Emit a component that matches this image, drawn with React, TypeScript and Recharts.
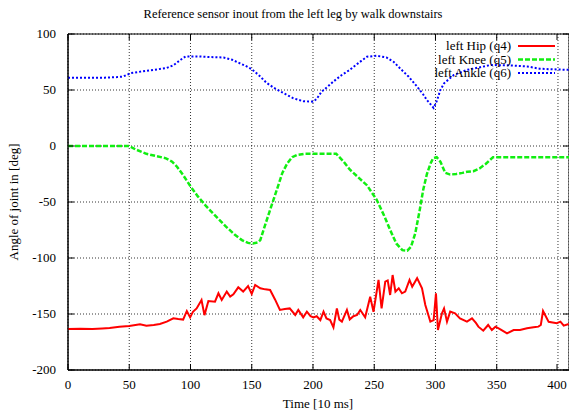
import { LineChart, Line, XAxis, YAxis, CartesianGrid, ReferenceArea } from "recharts";

const xTicks = [0, 50, 100, 150, 200, 250, 300, 350, 400];
const yTicks = [-200, -150, -100, -50, 0, 50, 100];

const hipTime = [0, 10, 20, 28, 34, 42, 50, 58.8, 64, 70, 75, 80.6, 86, 90, 94, 97, 99.7, 102, 105, 109, 111.4, 114.6, 120, 122.8, 125.5, 129.6, 132.4, 135, 139, 143, 147, 150, 152.8, 157, 161, 165, 169, 173, 177, 181, 185.5, 188, 192, 195, 198, 200.4, 203, 206, 208.6, 211, 214, 216.7, 219.5, 221.5, 223.6, 227.7, 230, 233, 236, 238.6, 242.6, 246.7, 249.4, 253.5, 256, 259, 261, 263, 265, 267.3, 270, 272.6, 275.3, 278.8, 281, 285, 289, 291.7, 295.8, 298.5, 300.4, 302, 305.3, 307, 309.4, 312, 316, 320, 325.7, 329.8, 333, 335, 339, 343, 346, 349, 353, 358.4, 363.8, 369, 374.7, 380, 384, 386, 387.8, 392.4, 399, 402, 404.7, 408.8];
const hipAngle = [-163.4, -163.2, -163.5, -163, -162.6, -161.3, -160.8, -159.2, -160.4, -159.8, -158.9, -156.8, -153.9, -154.5, -155, -147.3, -153, -148, -145, -137.5, -151, -138.4, -139, -131.5, -137.5, -130, -134.5, -132.4, -126.2, -130, -125, -132, -124.1, -127, -128, -128.6, -137, -146.4, -145.5, -145, -150.9, -146.4, -153, -147.9, -152, -153, -152, -155.4, -147.9, -154, -155.4, -161.9, -145, -155, -156.8, -146.4, -154.8, -152, -150.9, -146.4, -153, -134.5, -148, -119.6, -145, -121.1, -120, -133, -115.2, -130, -127, -131.5, -130, -119.6, -125.6, -118, -127, -142, -156.8, -155.4, -131.5, -164.3, -149.4, -145, -156.8, -147.9, -149.4, -153.9, -156.8, -153.9, -158, -161.3, -164.9, -159.8, -164.3, -161.3, -163.7, -167.3, -164.3, -164.3, -162.8, -161.9, -161.3, -159.8, -147.3, -157, -158.2, -156.8, -160.4, -158.9];

const kneeTime = [0, 20, 40, 50, 55, 64, 72, 80, 85, 89, 94, 100, 106, 113, 120, 129, 136, 142, 147, 151, 155, 157, 159.6, 165, 170.5, 175, 179, 183, 187, 193, 200, 210, 219, 225, 230, 237, 244, 252, 258, 263, 268, 273, 277, 280, 283.5, 287, 290, 293, 296, 298, 301, 304, 308, 312, 317, 322, 326, 331, 336, 341, 347, 360, 380, 409];
const kneeAngle = [0, 0, 0, 0, -3, -7, -9, -11, -14, -18.5, -26, -36, -45, -54, -62, -72, -79, -84, -86.5, -87, -86, -84, -75, -57, -39, -24, -15.5, -10, -8, -7, -7, -7, -7, -14, -21, -28, -35, -48, -62, -75, -87, -93, -93.5, -90, -78, -58, -39, -25, -15.5, -11, -10, -14, -24, -25.5, -25, -24, -23, -22.5, -20, -16, -10, -10, -10, -10];

const ankleTime = [0, 10, 20, 30, 40, 45, 51, 60, 70, 80, 86, 92, 96, 105, 115, 127, 134, 140, 145, 150, 156, 162, 168, 173, 178, 184, 192, 200, 203, 207, 212, 216.5, 223, 230, 237, 244, 252, 260, 266, 271, 278, 285, 290, 293, 298.5, 301, 304, 307, 315, 326, 335, 345, 360, 375, 385, 395, 409];
const ankleAngle = [61, 61, 61, 61, 61.5, 62, 65, 66.5, 68, 69.5, 72, 77, 80, 80, 79.5, 79, 77, 74, 71.5, 68.5, 63, 56.5, 52, 49, 46, 42.6, 40, 39.6, 42, 48.5, 53, 57.4, 63, 68, 74, 79.7, 80.6, 79, 75, 69.4, 62, 53, 46, 41, 34, 40, 50, 56, 63.4, 68, 70, 72.3, 72, 71, 69, 68.5, 68];

const toRows = (t: number[], v: number[]) => t.map((x, i) => ({ t: x, v: v[i] }));

const series = [
  { name: "left Hip (q4)", data: toRows(hipTime, hipAngle), color: "#ff0000", dash: undefined, width: 2 },
  { name: "left Knee (q5)", data: toRows(kneeTime, kneeAngle), color: "#11ee11", dash: "5 2", width: 2.5 },
  { name: "left Ankle (q6)", data: toRows(ankleTime, ankleAngle), color: "#0000ff", dash: "2 2", width: 2 },
];

const FONT = "'Liberation Serif', 'Times New Roman', serif";
const TOP = 34;
const BOTTOM = 370;
const LEFT = 68;
const RIGHT = 569;

function XTick({ x, y, payload }: any) {
  return (
    <g>
      <line x1={x} x2={x} y1={BOTTOM} y2={BOTTOM - 6} stroke="#000" />
      <line x1={x} x2={x} y1={TOP} y2={TOP + 6} stroke="#000" />
      <text x={x} y={y + 17} textAnchor="middle" fontFamily={FONT} fontSize={13} fill="#000">
        {payload.value}
      </text>
    </g>
  );
}

function YTick({ x, y, payload }: any) {
  return (
    <g>
      <line x1={LEFT} x2={LEFT + 6} y1={y} y2={y} stroke="#000" />
      <line x1={RIGHT} x2={RIGHT - 6} y1={y} y2={y} stroke="#000" />
      <text x={x - 10} y={y + 4} textAnchor="end" fontFamily={FONT} fontSize={13} fill="#000">
        {payload.value}
      </text>
    </g>
  );
}

function LegendBox() {
  return (
    <svg width={190} height={45} style={{ position: "absolute", left: 380, top: 38 }}>
      {series.map((s, i) => (
        <g key={s.name}>
          <text x={131} y={12 + i * 13.5} textAnchor="end" fontFamily={FONT} fontSize={13} fill="#000">
            {s.name}
          </text>
          <line x1={138} x2={175} y1={8 + i * 13.5} y2={8 + i * 13.5} stroke={s.color} strokeWidth={s.width} strokeDasharray={s.dash} />
        </g>
      ))}
    </svg>
  );
}

export default function App() {
  return (
    <div style={{ position: "absolute", left: 0, top: 0, width: 569, height: 413, background: "#fff", fontFamily: FONT }}>
      <div style={{ position: "absolute", left: 0, width: 586, top: 7, textAlign: "center", fontSize: 12.5, color: "#000" }}>
        Reference sensor inout from the left leg by walk downstairs
      </div>
      <LineChart width={569} height={413} data={series[0].data} margin={{ top: TOP, right: 0, bottom: 18, left: 0 }}>
        <CartesianGrid stroke="#000" strokeDasharray="1 2" strokeWidth={0.8} />
        <XAxis
          dataKey="t"
          type="number"
          domain={[0, 409]}
          ticks={xTicks}
          allowDataOverflow
          height={25}
          tickSize={0}
          tickLine={false}
          stroke="#000"
          tick={<XTick />}
          label={({ viewBox }: any) => (
            <text x={318} y={viewBox.y + viewBox.height + 13} textAnchor="middle" fontFamily={FONT} fontSize={13} fill="#000">
              Time [10 ms]
            </text>
          )}
        />
        <YAxis
          type="number"
          domain={[-200, 100]}
          ticks={yTicks}
          width={68}
          tickSize={0}
          tickLine={false}
          stroke="#000"
          tick={<YTick />}
          label={({ viewBox }: any) => (
            <text
              x={18}
              y={viewBox.y + viewBox.height / 2}
              textAnchor="middle"
              fontFamily={FONT}
              fontSize={13}
              fill="#000"
              transform={`rotate(-90 18 ${viewBox.y + viewBox.height / 2})`}
            >
              Angle of joint in [deg]
            </text>
          )}
        />
        <ReferenceArea x1={0} x2={409} y1={-200} y2={100} fill="none" stroke="#000" strokeWidth={1} />
        {series.map((s) => (
          <Line
            key={s.name}
            data={s.data}
            dataKey="v"
            name={s.name}
            type="linear"
            stroke={s.color}
            strokeWidth={s.width}
            strokeDasharray={s.dash}
            dot={false}
            isAnimationActive={false}
          />
        ))}
      </LineChart>
      <LegendBox />
    </div>
  );
}
